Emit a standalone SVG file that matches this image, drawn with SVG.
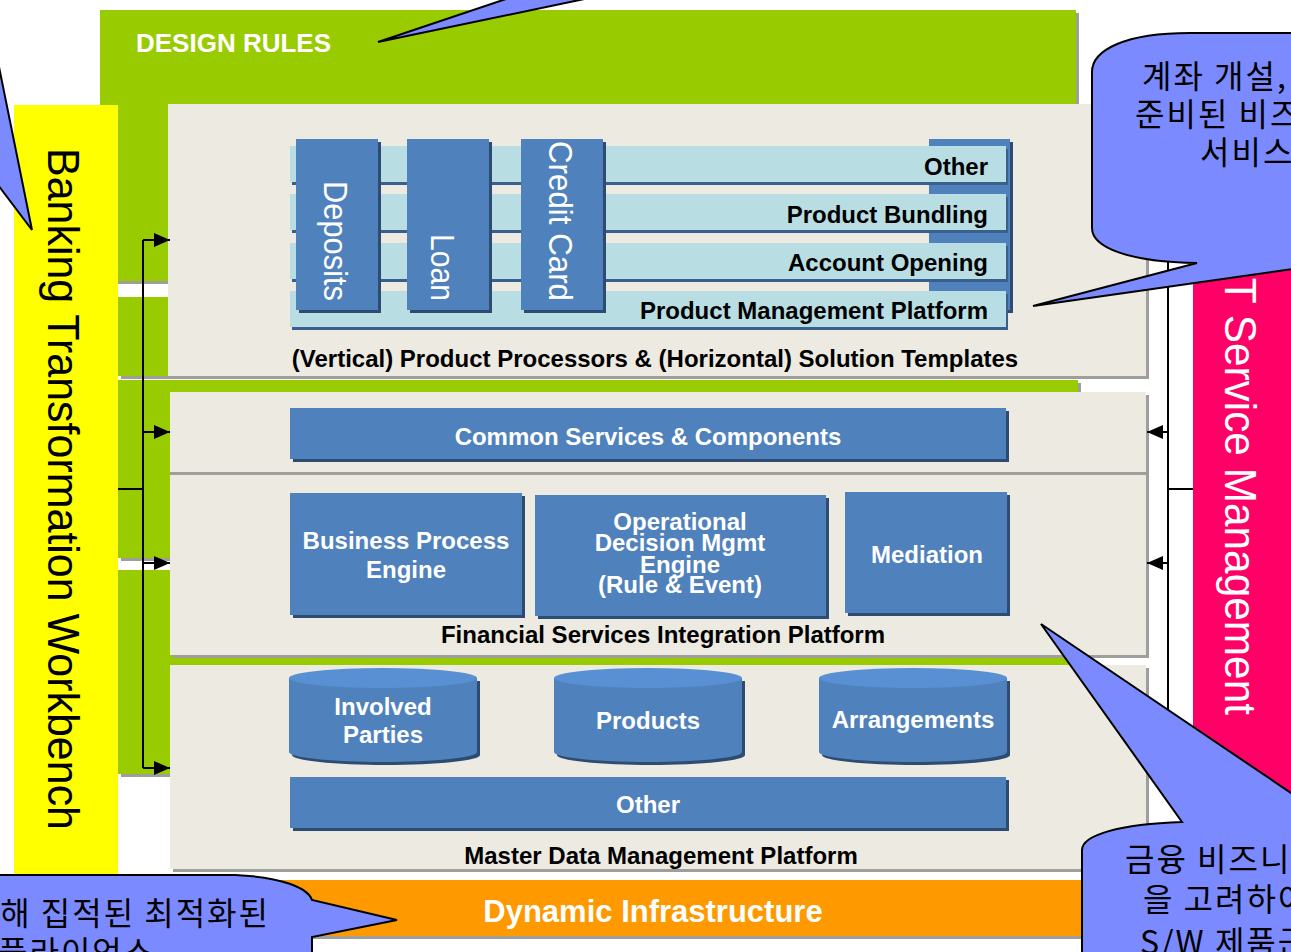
<svg xmlns="http://www.w3.org/2000/svg" width="1291" height="952" viewBox="0 0 1291 952">
<defs>
<style>
.grn{fill:#99CC00}
.sh{fill:#9E9E9A}
.pan{fill:#ECEAE1}
.bx{fill:#4F81BD}
.bxs{fill:#2E4B72}
.bar{fill:#B8DEE3}
.bars{fill:#3A5F8C}
.ctop{fill:#5890D3}
.lb{font-family:"Liberation Sans",Arial,sans-serif;font-weight:bold;font-size:24px}
.wt{fill:#FFFFFF}
.bk{fill:#000000}
.vt{font-family:"Liberation Sans",Arial,sans-serif;font-size:33px;fill:#FFFFFF}
.co{fill:#7B8BFF;stroke:#000;stroke-width:2}
.ko{font-family:"Noto Sans CJK KR",sans-serif;font-size:32px;fill:#000;letter-spacing:2px}
.cn{fill:none;stroke:#000;stroke-width:2}
</style>
<marker id="ah" markerUnits="userSpaceOnUse" markerWidth="16" markerHeight="14" refX="16" refY="7" orient="auto"><path d="M0,0 L16,7 L0,14 Z" fill="#000"/></marker>
</defs>
<rect x="0" y="0" width="1291" height="952" fill="#FFFFFF"/>

<g id="design-rules">
<rect x="103" y="13" width="976" height="271" class="sh"/>
<rect x="100" y="10" width="976" height="271" class="grn"/>
<rect x="121" y="300" width="958" height="79" class="sh"/>
<rect x="118" y="297" width="958" height="79" class="grn"/>
<rect x="121" y="383" width="960" height="178" class="sh"/>
<rect x="118" y="380" width="960" height="178" class="grn"/>
<rect x="121" y="573" width="960" height="204" class="sh"/>
<rect x="118" y="570" width="960" height="204" class="grn"/>
<text x="136" y="52" class="wt" font-family="Liberation Sans, Arial, sans-serif" font-weight="bold" font-size="26">DESIGN RULES</text>
</g>

<g id="workbench">
<rect x="14" y="105" width="104" height="770" fill="#FFFF00"/>
<text transform="translate(48,489) rotate(90)" text-anchor="middle" font-family="Liberation Sans, Arial, sans-serif" font-size="44" textLength="682" lengthAdjust="spacingAndGlyphs" class="bk">Banking Transformation Workbench</text>
</g>

<g id="it-service-management">
<rect x="1193" y="105" width="102" height="770" fill="#FF0066"/>
<text transform="translate(1225,266) rotate(90)" font-family="Liberation Sans, Arial, sans-serif" font-size="44" textLength="449" lengthAdjust="spacingAndGlyphs" class="wt">IT Service Management</text>
</g>

<g id="product-processors">
<rect x="171" y="107" width="978" height="272" class="sh"/>
<rect x="168" y="104" width="978" height="272" class="pan"/>
<rect x="932" y="142" width="81" height="171" class="bxs"/>
<rect x="929" y="139" width="81" height="171" class="bx"/>
<rect x="292" y="149" width="716" height="36" class="bars"/>
<rect x="290" y="146" width="716" height="36" class="bar"/>
<rect x="292" y="197" width="716" height="36" class="bars"/>
<rect x="290" y="194" width="716" height="36" class="bar"/>
<rect x="292" y="246" width="716" height="36" class="bars"/>
<rect x="290" y="243" width="716" height="36" class="bar"/>
<rect x="292" y="294" width="716" height="36" class="bars"/>
<rect x="290" y="291" width="716" height="36" class="bar"/>
<text x="988" y="175" text-anchor="end" class="lb bk">Other</text>
<text x="988" y="223" text-anchor="end" class="lb bk">Product Bundling</text>
<text x="988" y="271" text-anchor="end" class="lb bk">Account Opening</text>
<text x="988" y="319" text-anchor="end" class="lb bk">Product Management Platform</text>
<rect x="299" y="142" width="82" height="171" class="bxs"/>
<rect x="296" y="139" width="82" height="171" class="bx"/>
<rect x="410" y="142" width="82" height="171" class="bxs"/>
<rect x="407" y="139" width="82" height="171" class="bx"/>
<rect x="524" y="142" width="82" height="171" class="bxs"/>
<rect x="521" y="139" width="82" height="171" class="bx"/>
<text transform="translate(324,301) rotate(90)" text-anchor="end" class="vt" textLength="120" lengthAdjust="spacingAndGlyphs">Deposits</text>
<text transform="translate(431,301) rotate(90)" text-anchor="end" class="vt" textLength="67" lengthAdjust="spacingAndGlyphs">Loan</text>
<text transform="translate(549,301) rotate(90)" text-anchor="end" class="vt" textLength="160" lengthAdjust="spacingAndGlyphs">Credit Card</text>
<text x="655" y="367" text-anchor="middle" class="lb bk">(Vertical) Product Processors &amp; (Horizontal) Solution Templates</text>
</g>

<g id="integration-platform">
<rect x="173" y="395" width="976" height="263" class="sh"/>
<rect x="170" y="392" width="976" height="263" class="pan"/>
<rect x="170" y="472" width="976" height="3" class="sh"/>
<rect x="293" y="411" width="716" height="51" class="bxs"/>
<rect x="290" y="408" width="716" height="51" class="bx"/>
<text x="648" y="445" text-anchor="middle" class="lb wt">Common Services &amp; Components</text>
<rect x="293" y="496" width="232" height="122" class="bxs"/>
<rect x="290" y="493" width="232" height="122" class="bx"/>
<text x="406" y="549" text-anchor="middle" class="lb wt">Business Process</text>
<text x="406" y="578" text-anchor="middle" class="lb wt">Engine</text>
<rect x="538" y="498" width="291" height="121" class="bxs"/>
<rect x="535" y="495" width="291" height="121" class="bx"/>
<text x="680" y="530" text-anchor="middle" class="lb wt">Operational</text>
<text x="680" y="551" text-anchor="middle" class="lb wt">Decision Mgmt</text>
<text x="680" y="573" text-anchor="middle" class="lb wt">Engine</text>
<text x="680" y="593" text-anchor="middle" class="lb wt">(Rule &amp; Event)</text>
<rect x="848" y="495" width="162" height="121" class="bxs"/>
<rect x="845" y="492" width="162" height="121" class="bx"/>
<text x="927" y="563" text-anchor="middle" class="lb wt">Mediation</text>
<text x="663" y="643" text-anchor="middle" class="lb bk">Financial Services Integration Platform</text>
</g>

<g id="master-data">
<rect x="173" y="668" width="976" height="204" class="sh"/>
<rect x="170" y="665" width="976" height="204" class="pan"/>
<path d="M292,681 L292,755 A94,10 0 0 0 480,755 L480,681 Z" class="bxs"/>
<path d="M289,678 L289,752 A94,10 0 0 0 477,752 L477,678 Z" class="bx"/>
<ellipse cx="383" cy="678" rx="94" ry="10" class="ctop"/>
<text x="383" y="715" text-anchor="middle" class="lb wt">Involved</text>
<text x="383" y="743" text-anchor="middle" class="lb wt">Parties</text>
<path d="M557,681 L557,755 A94,10 0 0 0 745,755 L745,681 Z" class="bxs"/>
<path d="M554,678 L554,752 A94,10 0 0 0 742,752 L742,678 Z" class="bx"/>
<ellipse cx="648" cy="678" rx="94" ry="10" class="ctop"/>
<text x="648" y="729" text-anchor="middle" class="lb wt">Products</text>
<path d="M822,681 L822,755 A94,10 0 0 0 1010,755 L1010,681 Z" class="bxs"/>
<path d="M819,678 L819,752 A94,10 0 0 0 1007,752 L1007,678 Z" class="bx"/>
<ellipse cx="913" cy="678" rx="94" ry="10" class="ctop"/>
<text x="913" y="728" text-anchor="middle" class="lb wt">Arrangements</text>
<rect x="293" y="780" width="716" height="51" class="bxs"/>
<rect x="290" y="777" width="716" height="51" class="bx"/>
<text x="648" y="813" text-anchor="middle" class="lb wt">Other</text>
<text x="661" y="864" text-anchor="middle" class="lb bk">Master Data Management Platform</text>
</g>

<g id="dynamic-infrastructure">
<rect x="173" y="883" width="976" height="56" class="sh"/>
<rect x="170" y="880" width="976" height="56" fill="#FF9900"/>
<text x="653" y="922" text-anchor="middle" font-family="Liberation Sans, Arial, sans-serif" font-weight="bold" font-size="31" class="wt">Dynamic Infrastructure</text>
</g>

<g id="connectors">
<path class="cn" d="M118,489 H143 M143,240 V768"/>
<path class="cn" d="M143,240 H170" marker-end="url(#ah)"/>
<path class="cn" d="M143,432 H170" marker-end="url(#ah)"/>
<path class="cn" d="M143,563 H170" marker-end="url(#ah)"/>
<path class="cn" d="M143,768 H170" marker-end="url(#ah)"/>
<path class="cn" d="M1193,489 H1168 M1168,240 V768"/>
<path class="cn" d="M1168,432 H1147" marker-end="url(#ah)"/>
<path class="cn" d="M1168,563 H1147" marker-end="url(#ah)"/>
</g>

<g id="callout-top">
<path class="co" d="M378,42 L512,-3 L594,-3 Z"/>
</g>
<g id="callout-left">
<path class="co" d="M-5,47 L32,230 L-5,181 Z"/>
</g>
<g id="callout-top-right">
<path class="co" d="M1197,263 L1033,306 L1300,268 L1300,33 L1190,33 C1125,33 1092,50 1092,72 L1092,228 C1092,248 1130,262 1197,263 Z"/>
<text x="1142" y="88" class="ko">계좌 개설,</text>
<text x="1135" y="126" class="ko">준비된 비즈</text>
<text x="1200" y="164" class="ko">서비스</text>
</g>
<g id="callout-bottom-left">
<path class="co" d="M-10,960 L-10,875 L235,875 C282,877 308,888 312,900 L397,920 L312,937 L312,960 Z"/>
<text x="270" y="925" text-anchor="end" class="ko">해 집적된 최적화된</text>
<text x="-2" y="964" class="ko">플라이언스</text>
</g>
<g id="callout-bottom-right">
<path class="co" d="M1300,960 L1082,960 L1082,850 C1082,835 1120,824 1182,822 L1041,624 L1300,799 Z"/>
<text x="1125" y="871" class="ko">금융 비즈니</text>
<text x="1143" y="911" class="ko">을 고려하여</text>
<text x="1140" y="954" class="ko">S/W 제품군</text>
</g>
</svg>
